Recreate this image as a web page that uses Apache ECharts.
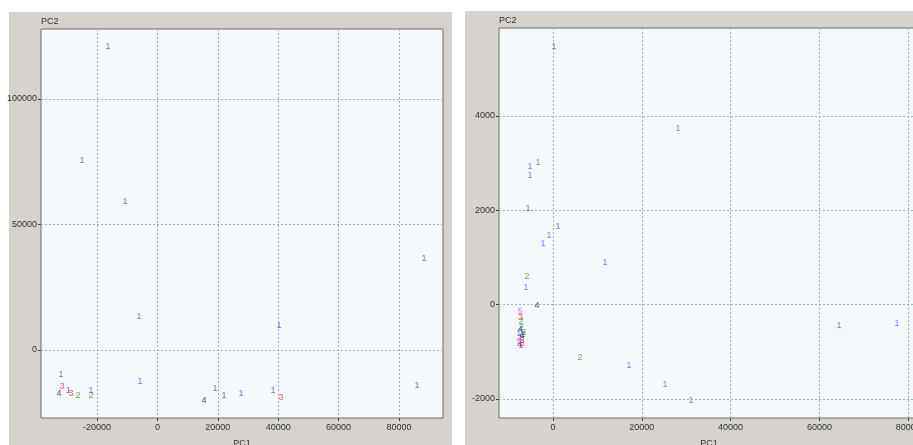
<!DOCTYPE html>
<html>
<head>
<meta charset="utf-8">
<script src="https://cdn.jsdelivr.net/npm/echarts@6/dist/echarts.min.js"></script>
<style>html,body{margin:0;padding:0;background:#fff;}#c{width:913px;height:445px;}</style>
</head>
<body>
<div id="c"></div>
<script>
// ---- Tick labels ----
const leftXTicks = [-20000, 0, 20000, 40000, 60000, 80000];
const leftYTicks = [0, 50000, 100000];
const rightXTicks = [0, 20000, 40000, 60000, 80000];
const rightYTicks = [-2000, 0, 2000, 4000];

// ---- Left panel data (PC1, PC2) per class ----
const left1 = [[-16358,120717],[-24967,75299],[-10728,58964],[88278,36255],[-6093,13147],[40265,9562],
  [-31920,-9960],[-5762,-12749],[-29500,-16000],[-21987,-16335],[19073,-15538],[22053,-18326],
  [27682,-17530],[38278,-16335],[85960,-14342]];
const left2 = [[-26291,-18326],[-21987,-18326]];
const left3 = [[-31589,-14741],[-28609,-17530],[40927,-19123]];
const left4 = [[-32583,-17530],[15430,-20318]];

// ---- Right panel data (PC1, PC2) per class ----
const right1 = [[225,5472],[28153,3733],[-5180,2927],[-3378,3012],[-5180,2736],[-5630,2036],[1126,1654],
  [-901,1464],[-2252,1294],[11712,891],[-6081,361],[17117,-1294],[25225,-1697],[31081,-2036],
  [64414,-445],[77477,-403],[-7700,-620],[-7300,-700],[-7200,-860]];
const right2 = [[-5856,594],[6081,-1124],[-7200,-360],[-7100,-490],[-6600,-600],[-6700,-640]];
const right3 = [[-7300,-280],[-6900,-820],[-7000,-760]];
const right4 = [[-3600,-20],[-7400,-530],[-7000,-660],[-7500,-850]];
const right5 = [[-7400,-150],[-7600,-780]];

const gridLeft = {left:41, top:29, width:402, height:389};
const gridRight = {left:499, top:28, width:420, height:390};
const FONT = 'Liberation Sans, Arial, sans-serif';

function mkSeries(name, data, color, xi, yi){
  return {
    type:'scatter', name:name, data:data, xAxisIndex:xi, yAxisIndex:yi,
    symbol:'circle', symbolSize:1, itemStyle:{color:'rgba(0,0,0,0)'},
    label:{show:true, position:'inside', formatter:function(p){return p.seriesName;},
      color:color, fontSize:9, textBorderWidth:0, fontFamily:FONT},
    labelLayout:{hideOverlap:false},
    emphasis:{disabled:true}, silent:true, animation:false
  };
}
function plain(v){ return String(v); }

function mkX(min, max, ticks, gi, lineColor){
  return {
    type:'value', gridIndex:gi, min:min, max:max,
    name:'PC1', nameLocation:'middle', nameGap:21,
    nameTextStyle:{color:'#333', fontSize:9, fontFamily:FONT},
    axisLine:{show:false, onZero:false},
    axisTick:{show:true, length:3, inside:false, customValues:ticks, lineStyle:{color:'#444'}},
    axisLabel:{customValues:ticks, formatter:plain, color:'#333', fontSize:9, margin:5, fontFamily:FONT},
    splitLine:{show:true, lineStyle:{color:lineColor, type:[2,2], width:1}}
  };
}
function mkY(min, max, ticks, gi, lineColor){
  return {
    type:'value', gridIndex:gi, min:min, max:max,
    name:'PC2', nameLocation:'end', nameGap:3,
    nameTextStyle:{color:'#333', fontSize:9, align:'left', verticalAlign:'bottom', fontFamily:FONT},
    axisLine:{show:false, onZero:false},
    axisTick:{show:true, length:3, inside:false, customValues:ticks, lineStyle:{color:'#444'}},
    axisLabel:{customValues:ticks, formatter:plain, color:'#333', fontSize:9, margin:4, fontFamily:FONT},
    splitLine:{show:true, lineStyle:{color:lineColor, type:[2,2], width:1}}
  };
}

const chart = echarts.init(document.getElementById('c'), null, {renderer:'canvas'});
chart.setOption({
  animation:false,
  backgroundColor:'#ffffff',
  graphic:[
    {type:'rect', z:-10, shape:{x:9, y:12, width:443, height:440}, style:{fill:'#d6d3ce'}},
    {type:'rect', z:-10, shape:{x:465, y:11, width:460, height:440}, style:{fill:'#d6d3ce'}}
  ],
  grid:[
    Object.assign({show:true, outerBoundsMode:'none', containLabel:false, backgroundColor:'#f5f9fc', borderColor:'#6a6a6a', borderWidth:1}, gridLeft),
    Object.assign({show:true, outerBoundsMode:'none', containLabel:false, backgroundColor:'#f5f9fc', borderColor:'#6a6a6a', borderWidth:1}, gridRight)
  ],
  xAxis:[
    mkX(-38543, 94570, leftXTicks, 0, '#9fb2b2'),
    mkX(-12162, 82432, rightXTicks, 1, '#8cbcb4')
  ],
  yAxis:[
    mkY(-27092, 127888, leftYTicks, 0, '#9fb2b2'),
    mkY(-2403, 5866, rightYTicks, 1, '#8cbcb4')
  ],
  series:[
    mkSeries('1', left1, '#5050c8', 0, 0),
    mkSeries('2', left2, '#3a963a', 0, 0),
    mkSeries('3', left3, '#e03a3a', 0, 0),
    mkSeries('4', left4, '#222244', 0, 0),
    mkSeries('1', right1, '#7050ff', 1, 1),
    mkSeries('2', right2, '#3a9c3a', 1, 1),
    mkSeries('3', right3, '#e84040', 1, 1),
    mkSeries('4', right4, '#22226a', 1, 1),
    mkSeries('5', right5, '#e040e0', 1, 1)
  ]
});
</script>
</body>
</html>
